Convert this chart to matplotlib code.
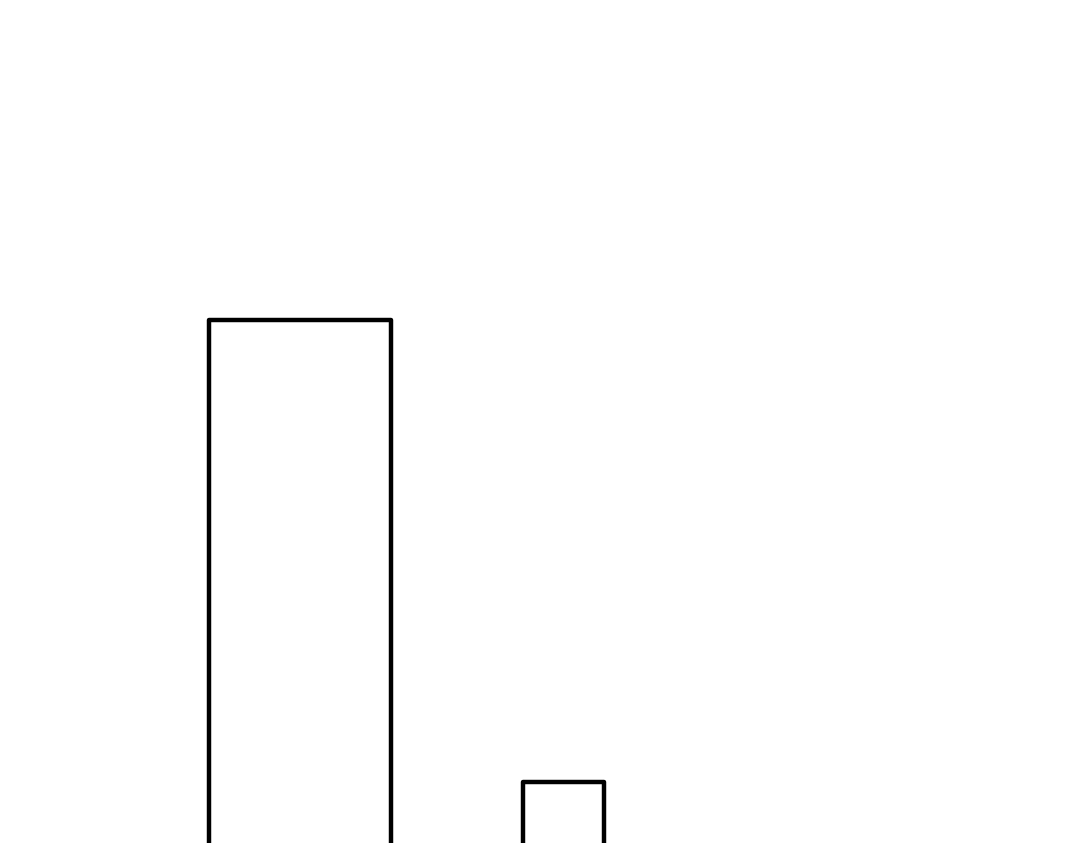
import numpy as np
import matplotlib
matplotlib.use('Agg')
import matplotlib.pyplot as plt

# --- Data ---
categories = ['A', 'B']
values = [60, 7.3]

# --- Plot ---
fig = plt.figure(figsize=(10.8, 8.43), dpi=100)
ax = fig.add_axes([0, 0, 1, 1])

x = np.arange(len(categories))
ax.bar(x, values, width=[0.69, 0.307], color='white',
       edgecolor='black', linewidth=3.2, joinstyle='round')

# bars run off the bottom edge, so the baseline sits just below the figure
ax.set_xlim(-1.136, 2.955)
ax.set_ylim(0.34, 96.5)
ax.axis('off')

fig.savefig('out.png', dpi=100, facecolor='white')
